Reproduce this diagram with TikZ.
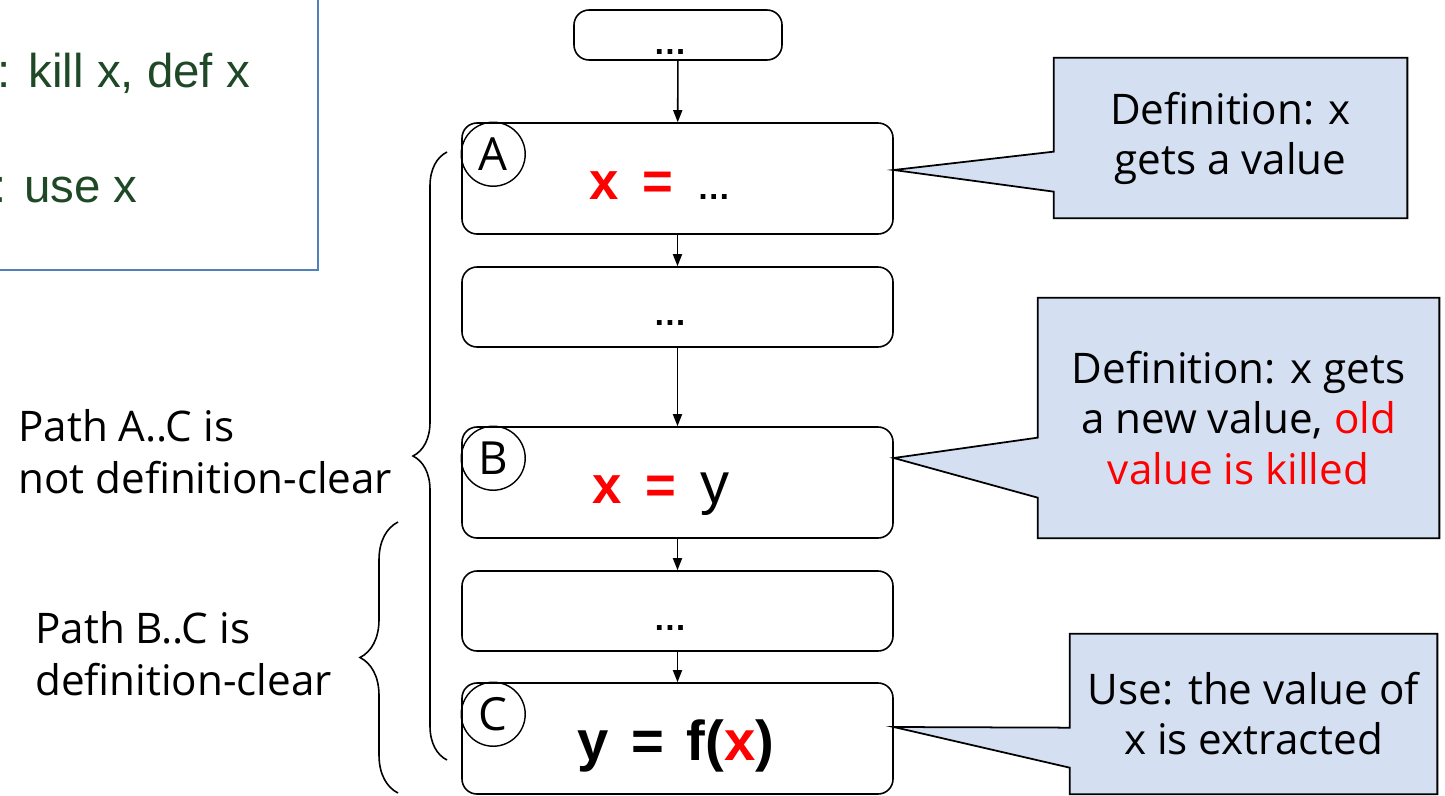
\documentclass[tikz,border=0pt]{standalone}
\usepackage{fontspec}
\setmainfont{Open Sans}
\newfontfamily\arialfont{Liberation Sans}
\usetikzlibrary{calc,arrows.meta,backgrounds,decorations.pathreplacing}
\definecolor{legendgreen}{RGB}{30,72,38}
\definecolor{legendblue}{RGB}{79,129,189}
\definecolor{bubblefill}{RGB}{212,224,242}

\tikzset{
	block/.style={draw, rounded corners=0.3cm, line width=0.9pt, minimum width=8.62cm, inner sep=0pt},
	bigblock/.style={block, minimum height=2.22cm},
	smallblock/.style={block, minimum height=1.6cm},
	tag/.style={draw, circle, line width=0.8pt, minimum size=1.28cm, inner sep=0pt, font=\fontsize{26}{26}\selectfont},
	flow/.style={-{Triangle[length=0.24cm,width=0.18cm]}, line width=0.9pt},
	bubble/.style={draw, line width=1pt, fill=bubblefill},
	note/.style={align=center, font=\fontsize{24}{28.5}\selectfont, inner sep=0pt},
	stmt/.style={font=\arialfont\bfseries\fontsize{30}{30}\selectfont, inner sep=0pt, anchor=base},
	dots/.style={font=\arialfont\bfseries\fontsize{19}{19}\selectfont, inner sep=0pt, anchor=base},
	pathtext/.style={align=left, anchor=west, font=\fontsize{24}{29.5}\selectfont, inner sep=0pt},
	legend/.style={font=\arialfont\fontsize{27}{27}\selectfont, text=legendgreen, inner sep=0pt, anchor=base west},
	curly/.style={decorate, line width=0.9pt},
}
\newcommand{\gap}{\hspace{0.45em}}

\begin{document}
\begin{tikzpicture}
	\useasboundingbox (0,0) rectangle (28.9,-15.9);

	% legend box, cut by the page edge
	\draw[legendblue, line width=1.1pt] (-0.5,0.5) rectangle (6.36,-5.4);
	\node[legend] (kill) at (-0.05,-1.74) {: kill x, def x};
	\node[legend] (use) at (-0.14,-4.04) {: use x};

	\node[block, minimum width=4.16cm, minimum height=1cm] (start) at (13.56,-0.7) {};
	\node[bigblock] (A) at (13.55,-3.57) {};
	\node[smallblock] (mid1) at (13.55,-6.14) {};
	\node[bigblock] (B) at (13.55,-9.65) {};
	\node[smallblock] (mid2) at (13.55,-12.22) {};
	\node[bigblock] (C) at (13.55,-14.77) {};

	\node[dots] (startdots) at (13.4,-1.08) {\dots};
	\node[stmt] (Atext) at (13.2,-3.98) {\textcolor{red}{x\gap=\gap}{\fontsize{19}{19}\selectfont\dots}};
	\node[dots] (mid1dots) at (13.4,-6.5) {\dots};
	\node[stmt] (Btext) at (13.22,-10.06) {\textcolor{red}{x\gap=\gap}{\mdseries\fontsize{33}{33}\selectfont y}};
	\node[dots] (mid2dots) at (13.4,-12.6) {\dots};
	\node[stmt, font=\arialfont\bfseries\fontsize{32}{32}\selectfont] (Ctext) at (13.52,-15.2) {y\hspace{0.4em}=\hspace{0.4em}f(\textcolor{red}{x})};

	\node[tag] (Atag) at ([shift={(0.64,-0.64)}]A.north west) {A};
	\node[tag] (Btag) at ([shift={(0.64,-0.64)}]B.north west) {B};
	\node[tag] (Ctag) at ([shift={(0.64,-0.64)}]C.north west) {C};

	\draw[flow] (start) -- (A);
	\draw[flow] (A) -- (mid1);
	\draw[flow] (mid1) -- (B);
	\draw[flow] (B) -- (mid2);
	\draw[flow] (mid2) -- (C);

	\node[note, minimum width=7.06cm, minimum height=3.2cm] (defA) at (24.61,-2.76) {Definition: x\\gets a value};
	\node[note, minimum width=8.02cm, minimum height=4.8cm] (defB) at (24.77,-8.36) {Definition: x gets\\a new value, \textcolor{red}{old}\\\textcolor{red}{value is killed}};
	\node[note, minimum width=7.34cm, minimum height=3.2cm] (useC) at (25.07,-14.28) {Use: the value of\\x is extracted};

	\begin{scope}[on background layer]
		\draw[bubble] (defA.north west) -- (defA.north east) -- (defA.south east) -- (defA.south west) -- ([yshift=-2.68cm]defA.north west) -- ([yshift=0.17cm]A.east) -- ([yshift=-1.88cm]defA.north west) -- cycle;
		\draw[bubble] (defB.north west) -- (defB.north east) -- (defB.south east) -- (defB.south west) -- ([yshift=-4.0cm]defB.north west) -- ([yshift=0.49cm]B.east) -- ([yshift=-2.8cm]defB.north west) -- cycle;
		\draw[bubble] (useC.north west) -- (useC.north east) -- (useC.south east) -- (useC.south west) -- ([yshift=-2.68cm]useC.north west) -- ([yshift=0.23cm]C.east) -- ([yshift=-1.88cm]useC.north west) -- cycle;
	\end{scope}

	\draw[curly, decoration={brace, amplitude=0.68cm}] (8.94,-15.2) -- (8.94,-3.04);
	\draw[curly, decoration={brace, amplitude=0.76cm}] (7.96,-15.86) -- (7.96,-10.44);

	\node[pathtext] (notclear) at (0.36,-9.04) {Path A..C is\\not definition-clear};
	\node[pathtext] (clear) at (0.7,-13.08) {Path B..C is\\definition-clear};
\end{tikzpicture}
\end{document}
